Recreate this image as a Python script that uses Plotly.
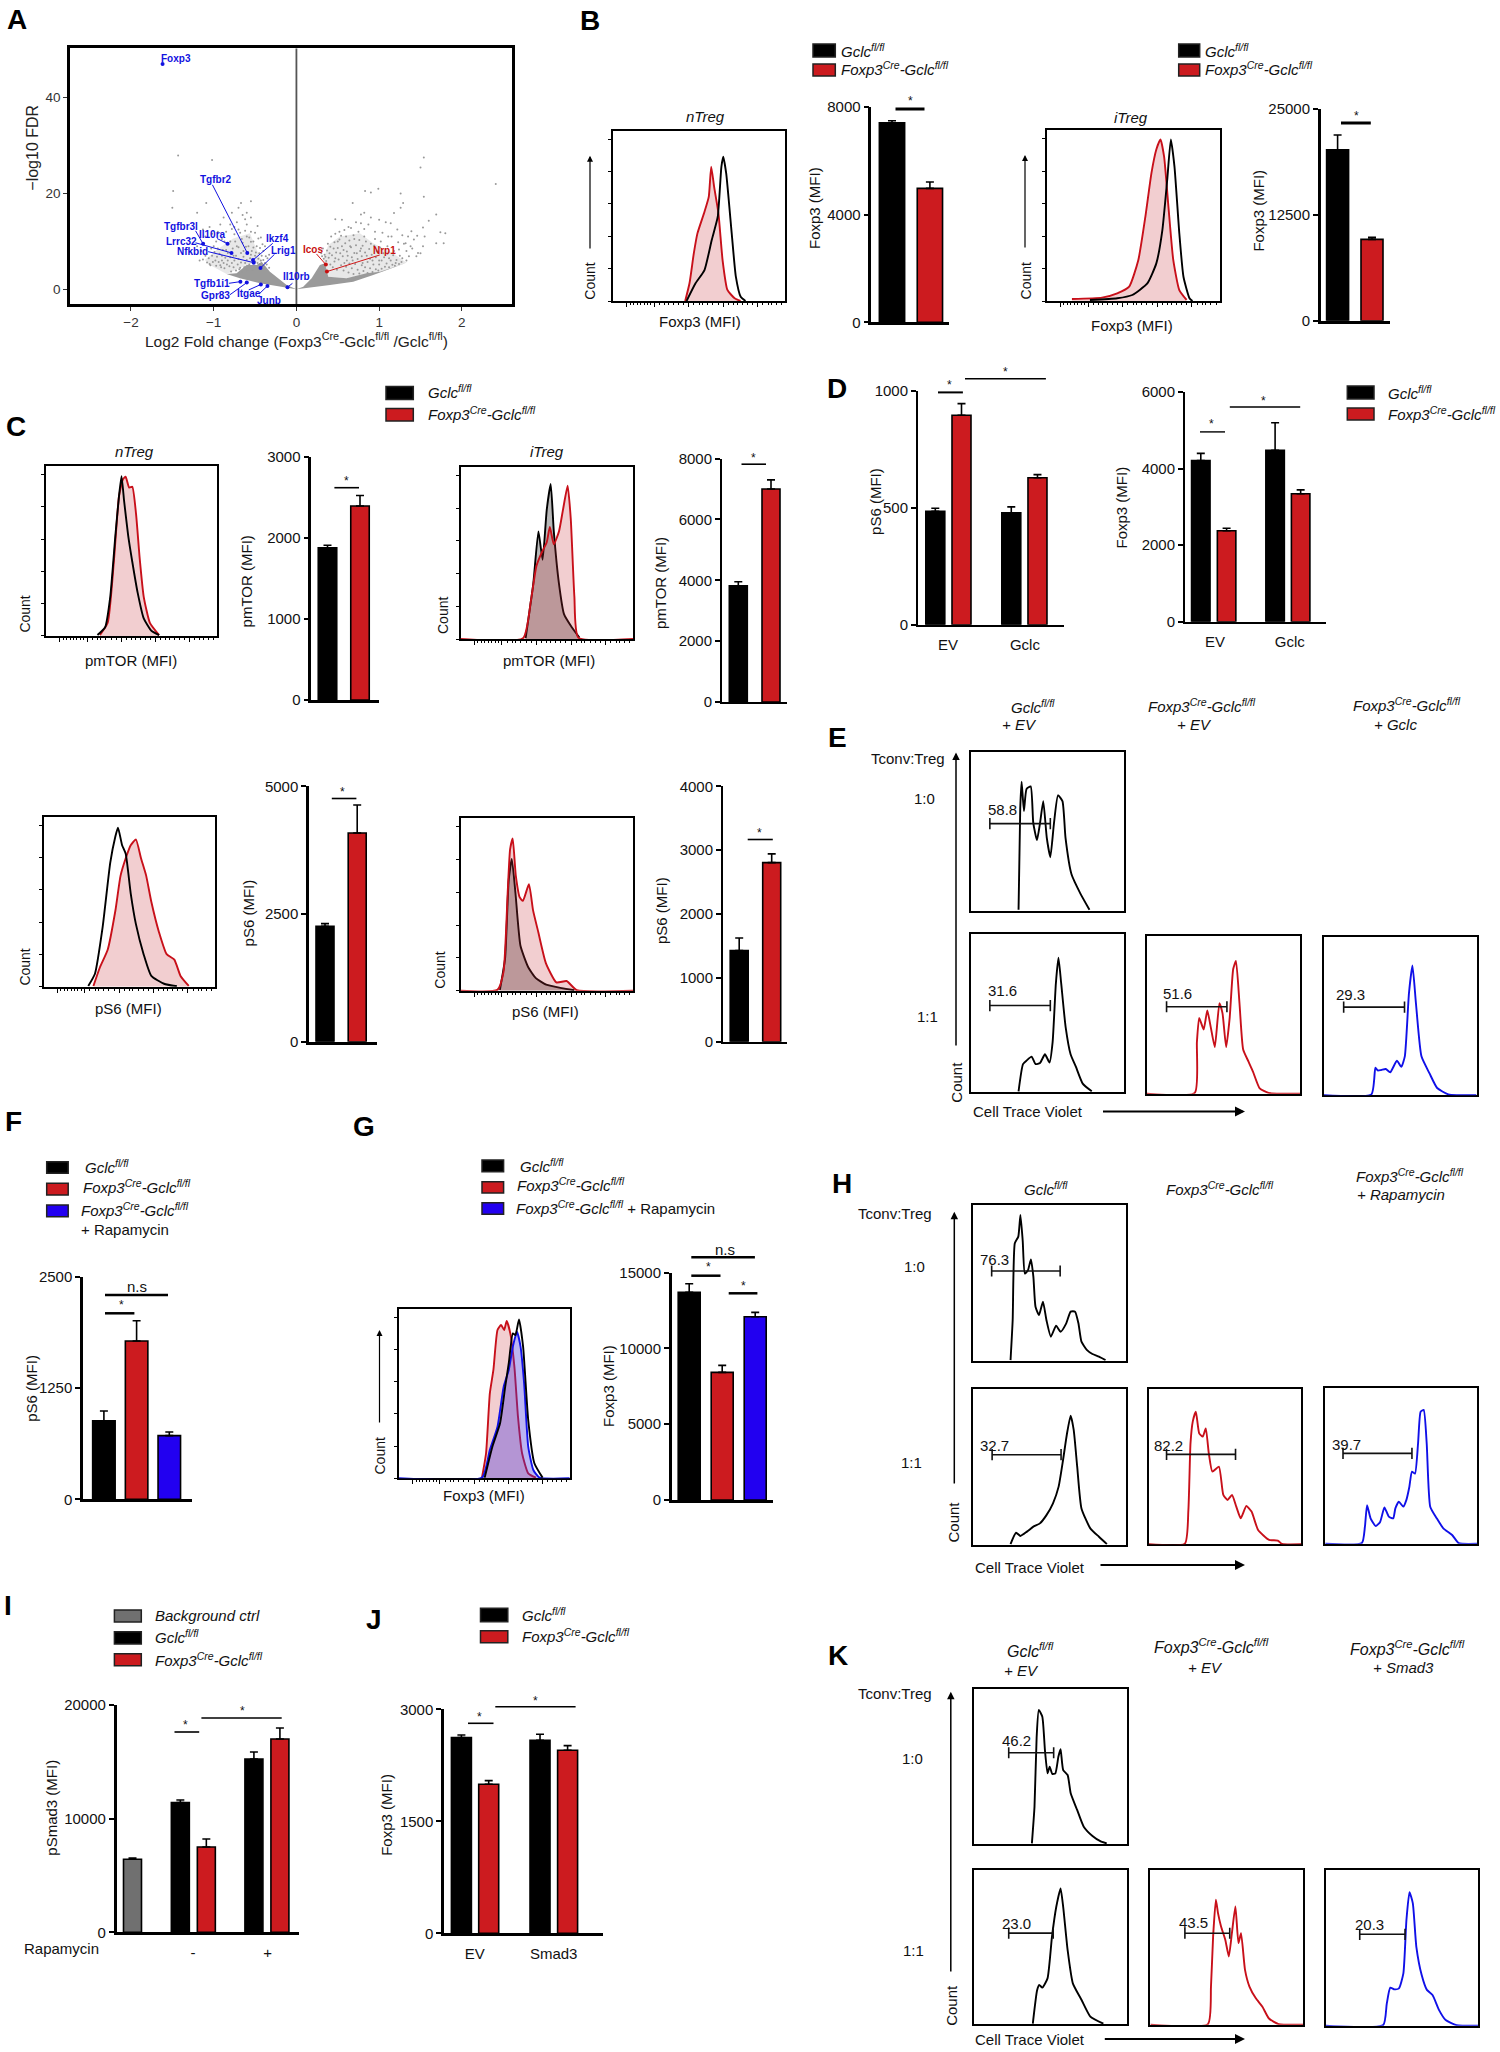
import plotly.graph_objects as go

W, H = 1500, 2052
FONT = "Liberation Sans"
BLACK, RED, BLUE, GREY = "#000000", "#CC1B1F", "#2200F0", "#707070"
LRED, LBLUE = "#C8101A", "#1010E8"
PINK = "rgba(200,50,60,0.24)"
VIOLET = "rgba(70,50,220,0.36)"
DARKF = "rgba(0,0,0,0.28)"

GCLC = "<i>Gclc<sup>fl/fl</sup></i>"
CRE = "<i>Foxp3<sup>Cre</sup>-Gclc<sup>fl/fl</sup></i>"

# ---------- A: volcano ----------
gene_names = ["Foxp3","Tgfbr2","Tgfbr3l","Il10ra","Lrrc32","Nfkbid","Ikzf4","Lrig1","Il10rb","Tgfb1i1","Gpr83","Itgae","Junb"]
gene_x = [-1.618,-0.594,-1.128,-0.833,-0.785,-0.516,-0.525,-0.434,-0.108,-0.677,-0.6,-0.43,-0.35]
gene_y = [47,7.6,9.5,9.5,7.6,5.56,6.1,4.45,0.42,1.6,1.4,1.0,0.7]
label_x = [-1.458,-0.976,-1.393,-1.015,-1.388,-1.254,-0.226,-0.156,0,-1.024,-0.98,-0.573,-0.334]
label_y = [48.2,22.95,13.07,11.4,9.94,7.86,10.5,8,2.64,1.25,-1.32,-0.83,-2.36]
lead_x = [-1.618,-1.015,-1.219,-0.959,-1.219,-1.067,-0.286,-0.265,-0.048,-0.816,-0.807,-0.577,-0.451]
lead_y = [47,21.8,12.2,10.6,9.7,7.86,9.6,7.3,1.25,1.25,-1.18,-0.14,-0.97]
up_names = ["Icos","Nrp1"]
up_x = [0.356,0.369]
up_y = [5.15,3.7]
up_label_x = [0.204,1.063]
up_label_y = [8.2,8.07]
up_lead_x = [0.243,1.007]
up_lead_y = [7.37,7.16]

sparse_x = [-1.43,-1.02,-1.49,-1.5,-1.09,-1.2,-0.67,-0.55,1.54,1.5,2.41,0.99,0.83,0.9,1.26,1.54,0.68,1.29,1.26,1.18,0.82,0.78,1.69,0.47,1.8,1.74,1.53,1.6,0.78,1.14,1.39,1.69,1.78,1.53,1.32,1.45,1.47,
 -1.05,-1.02,-0.98,-0.95,-0.92,-0.9,-0.9,-0.88,-0.85,-0.85,-0.83,-0.8,-0.8,-0.78,-0.76,-0.75,-0.72,-0.72,-0.7,-0.7,-0.68,-0.66,-0.65,-0.64,-0.62,-0.6,-0.6,-0.58,-0.56,-0.55,-0.54,-0.52,-0.5,-0.48,-0.47,-0.45,-0.43,-0.4,-0.38,-0.35,-0.33,-1.0,-1.1,-1.05,-0.95,-0.88,-0.78,-0.7,-1.15,-0.6,
 0.3,0.32,0.35,0.38,0.4,0.42,0.45,0.47,0.5,0.52,0.53,0.55,0.58,0.6,0.62,0.63,0.65,0.68,0.7,0.72,0.73,0.75,0.78,0.8,0.82,0.85,0.87,0.9,0.92,0.95,0.97,1.0,1.02,1.05,1.08,1.1,1.12,1.15,1.18,1.2,1.22,1.25,1.28,1.3,1.33,1.4,1.5,1.55,1.35,0.55,0.9,1.0]
sparse_y = [27.9,27,20.5,17,18,16,18,18.4,27.5,25.4,22,21,20.5,20.2,20,19.3,18,18,17,15.9,16,15.6,15.6,14.6,11.7,11.9,12.9,14.3,13.8,13.8,12.1,9.6,9.6,9,9.6,6.9,7.6,
 5.3,7,6,8.5,5,10.5,7,5.5,12,8.2,6,13.5,10,5.5,7,11.5,14,9,6.3,12.5,4.5,10.5,15.5,8,5.5,11,13.5,9,6.5,12,8,10,7,9,5.5,7.5,6,8,5.5,6.5,4.5,9,11,13,12,15,16,17,8,16,
 7.5,8.5,6.8,9.5,7.5,11,8.5,6.5,10,12,7.5,9,5.5,11,7,13,9,6,10.5,14,7.5,12,8.5,5.5,11,7,13.5,9.5,6,12,8,6,10,7.5,14,9,6.5,11,8,5.5,12.5,7,6.5,9.5,6,8.5,7.5,11,11,14.5,15,14.5]
mid_right_x = [.33,.34,.36,.37,.39,.41,.41,.43,.44,.46,.46,.48,.49,.5,.51,.52,.54,.54,.56,.57,.57,.59,.6,.61,.61,.63,.64,.64,.66,.67,.67,.69,.69,.7,.71,.72,.74,.74,.76,.76,.77,.79,.79,.8,.81,.83,.83,.84,.86,.86,.88,.89,.89,.91,.92,.93,.94,.96,.96,.98,.99,1.0,1.01,1.03,1.03,1.06,1.07,1.09,1.1,1.12,1.14,1.16,1.17,1.19,1.21,1.24,1.27,.31,.47,.58,.66,.82,.95,1.04,1.11,1.23,1.28,1.38,1.42,1.46,1.33,1.24,1.36]
mid_right_y = [6.4,7.2,5.9,8.1,6.6,5.2,8.9,7.1,4.6,9.8,5.8,7.7,4.1,8.6,6.2,10.4,5,11.2,6.9,8.2,3.9,9.6,4.7,6,7.9,3.5,10.2,5.4,8.8,4.4,6.7,11.3,3.2,7.6,5.3,9.2,4.1,6.3,10.3,3.3,8,5,6.9,9.1,3.8,4.6,7.7,10,5.7,3.4,8.4,4.4,6.4,7.2,3.6,5.2,9.1,4.2,6.7,7.8,3.9,5.2,8.7,6,4.3,6.7,4.7,5.4,7.4,4.6,6,5.1,7.1,4.9,6.1,5.3,5.7,6.9,11.6,12.4,12.8,12.6,10.5,11.8,11,9.8,11.3,9,10.4,11.2,8,8.3,6.9]
mid_left_x = [-.36,-.37,-.39,-.4,-.41,-.42,-.44,-.44,-.46,-.46,-.48,-.49,-.5,-.5,-.52,-.53,-.53,-.55,-.55,-.57,-.57,-.59,-.59,-.6,-.61,-.62,-.63,-.64,-.65,-.66,-.67,-.67,-.68,-.69,-.7,-.71,-.73,-.73,-.74,-.75,-.76,-.77,-.78,-.79,-.8,-.81,-.82,-.83,-.84,-.86,-.87,-.87,-.89,-.9,-.91,-.93,-.94,-.96,-.97,-.97,-.99,-1.01,-1.03,-1.04,-1.06,-1.08,-1.1,-1.13,-1.17,-1.2,-.62,-.47,-.55,-.75,-.92,-.43,-.38,-.33,-1.02,-1.13]
mid_left_y = [5.2,6.9,4.7,6.1,9.4,7,5.3,8.6,6.4,10.6,4.6,7.7,5.8,11.8,8.7,6,4.1,9.9,7.2,5.2,10.8,7.8,3.9,6.1,8.9,12.2,4.6,6.8,9.7,3.6,5.6,7.6,11.8,4.2,8.8,5.2,7,3.9,10,6,4.6,8.5,12.6,3.7,6.7,4.8,9.4,7.6,5.2,6.6,4.4,10,8.2,6,4.6,7.4,5.7,6.8,4.9,10,7.8,5.7,8.5,5,6.5,5.6,7,6.2,6,9,14.6,13.2,15,13,13.5,10.8,9,7.2,11.6,12.5]
dense_left_x = [0,-0.2,-0.44,-0.683,-0.844,-0.723,-0.602,-0.481,-0.42,-0.32,-0.2,-0.118]
dense_left_y = [0,0.54,1.25,2.3,3.19,3.34,5.07,5.07,5.77,3.68,1.94,0.9]
dense_right_x = [0,0.082,0.184,0.284,0.344,0.385,0.606,0.848,1.009,1.29,1.332,0.928,0.686,0.405]
dense_right_y = [0,0.54,2.3,5.07,5.43,2.63,2.3,3.34,3.68,5.43,5.56,2.99,1.59,0.9]
haze_left_x = [-1.106,-0.964,-0.764,-0.562,-0.462,-0.42,-0.602,-0.844,-1.045]
haze_left_y = [6.1,8.2,10.6,11.7,7.5,5.77,5.07,3.19,5.07]
haze_right_x = [0.324,0.385,0.526,0.767,0.928,1.17,1.332,1.009,0.606,0.385]
haze_right_y = [6.1,9.25,11,11.7,9.6,7.5,5.56,3.68,2.3,2.63]

# ---------- bar values ----------
b1_val, b1_err = [7407,4970], [74,235]
b2_val, b2_err = [20165,9590], [1730,236]
c1_val, c1_err = [1880,2397], [32,129]
c2_val, c2_err = [3821,6998], [129,301]
c3_val, c3_err = [2261,4087], [51,546]
c4_val, c4_err = [1427,2805], [198,137]
d1_val, d1_err = [485,896,479,629], [13,50,25,13]
d2_val, d2_err = [4208,2377,4475,3343], [190,64,724,102]
f_val, f_err = [883,1778,715], [109,228,41]
g_val, g_err = [13702,8424,12097], [572,462,286]
i_val, i_err = [6422,11408,7507,15249,17009], [118,234,704,616,968]
j_val, j_err = [2621,1996,2585,2451], [35,49,80,62]

# ---------- histogram curves (percent of axis) ----------
b1k_x=[42.7,47.9,53.1,57.3,60.8,62.9,64,65.7,68.9,71.3,74.1,76.9]
b1k_y=[0,10.4,18.2,35.8,49.5,78.8,84.7,74.9,39.7,14.3,2.5,0]
b1r_x=[41.9,44.4,46.9,49,53.1,55.6,57,58.7,61.2,63.6,66.4,70.6,74]
b1r_y=[0,10.4,28,39.7,52.4,61.3,78.9,67,51.5,24,6.5,1.6,0]
b2r_x=[14.6,32,40.8,47.7,53,57.1,60.6,63.4,65.8,67.9,70.4,73.2,76.7,80.9]
b2r_y=[1.2,2,4.5,8.4,24,49.5,74.9,88.6,94.5,84.4,55.2,24,6.4,0.6]
b2k_x=[25,40.8,49.5,58.2,63.4,66.9,69.7,71.8,73.9,76.7,79.1,82.6,84.3]
b2k_y=[0.6,1.6,3.5,10.3,22,41.5,70.8,94.5,78.6,39.6,14.2,1.6,0]
c1k_x=[30,34.5,37.5,40.5,42.6,44.1,45.6,48,50.4,53.5,57.1,61.6,66.1]
c1k_y=[0.5,5.1,23,59,82,94,79.5,59,43.6,25.6,10.3,3,0.5]
c1r_x=[31.5,36,39.6,42.6,45,46.5,48.6,50.4,52.6,54.7,57.1,60.7,66.1]
c1r_y=[0.5,7.7,43.6,82,92.3,93.6,87.2,87.7,71.8,46,23,7.7,0.5]
c2k_x=[37.7,42.1,45.1,47.5,49.9,52.2,54,57,59.9,64.4,68.8]
c2k_y=[0.5,32,62.5,46,75,90,62.5,32,14.4,6.8,0.8]
c2r_x=[36.2,40.7,43.9,46.9,49.9,51.7,54,57,59.3,62,63.8,65.9,68.2]
c2r_y=[0.5,22,42.3,50,56.2,65,55,62.5,75,89,70,24.6,0.8]
c3k_x=[26,29.9,34.3,38.8,41.8,43.3,45.7,47.8,50.7,53.7,58.2,62.7,70.1,77.6]
c3k_y=[0.5,7.7,34.6,73,88.5,93.6,83.3,78.2,55,37,19.2,6.4,1.8,0.3]
c3r_x=[29,32.8,37.3,41.8,44.8,47.8,50.7,53.7,56.7,59.7,62.7,67.2,71.6,76.1,79.7,84.5]
c3r_y=[0.5,11.5,21.8,44.9,65.4,75.6,83.3,86.7,75.6,65.4,50,32,19.2,16,6.4,0.5]
c4r_x=[21.4,24.9,27.3,28.7,30.2,32,34.3,36.1,39.6,42,45,49.4,55.5,61.4,67.3]
c4r_y=[0.5,11,56.6,81.8,88.1,66.7,54,52,61.6,46.5,34,16,4.8,5.6,0.3]
c4k_x=[22.8,25.8,27.9,29.7,31.8,34.7,39.2,43.6,49.6,58.5,65.9]
c4k_y=[0.5,18.7,64,76.3,56.6,26,13.6,7.3,3.5,1.5,0.3]
gr_x=[48.6,51,53.2,55.3,57.7,59.8,61.6,63.1,65.2,67.6,69.7,72.1,75.7,80.2]
gr_y=[0.4,14.8,50,64,87.6,90.6,87.6,93,85.6,66,36.4,14.8,2.95,0.4]
gk_x=[50.2,54.7,59.2,62.2,64.3,66.7,68.2,70.3,72.7,75.7,79.3,84.1]
gk_y=[0.4,18.7,32.5,54,68,85.6,84.6,93.9,77.8,34.4,8.9,0.4]
gb_x=[48.6,53.2,57.7,61.3,64.3,66.7,69.1,71.2,73.3,75.7,78.7,82.3]
gb_y=[0.4,16.7,30.5,54,64,77.8,86.6,77.8,56,18.7,4.9,0.4]

e1_x=[31.3,32.4,33.3,34.8,36.5,39.2,40.9,43.3,45.3,47.4,49.7,52,54.4,57,59.9,61.9,65.8,71.6,77.5]
e1_y=[0.6,64.6,81.5,63,76.9,78.5,55.4,44.6,55.4,69.2,46,33.8,55.4,72.9,69.2,46,23,10.8,0.6]
e2_x=[31.3,34.2,36.5,39.8,42.4,45.3,48.5,51.5,53.5,55.6,57.3,59.1,62,65.2,68.7,73.1,79]
e2_y=[0.6,17.8,20,22.5,17.8,18.5,24,18.8,31.7,68.6,85,68.6,41,24,16,5.5,0.6]
e3_x=[31.3,32.7,34.2,37.1,39.5,41.8,44.4,47.4,49.4,51.8,54.1,56.4,58.2,60.5,62.9,66.4,69.3,73.7,79.5]
e3_y=[0.6,32.6,48,40.6,52.6,41.8,29.5,57.2,51,29.5,48,78.8,84,57.2,28,20.3,14,3.4,0.6]
e4_x=[31.1,33.7,35.2,37.5,40.5,43.4,47.8,50.7,53,55.7,58,60.3,63.9,69.2,74.2,81.5]
e4_y=[0.6,17.5,15.7,16,16.6,14.5,21.8,18,24.6,64.3,82,58,24.6,13.8,4.6,0.6]

h1_x=[24.4,25.8,27.2,29.5,30.9,32.4,33.8,35.8,37.8,39.4,40.8,43.1,45.7,48,50.9,54.3,57.3,61,63.9,66.8,69,71,74.5,78.2,82.5,86.8]
h1_y=[0.4,26,75.4,79.7,93.6,77,56,58,65,54,34.7,29.3,37.9,26,15.4,22.5,18.6,24,31.5,31.5,24,12.2,6.9,4.3,2.6,0.4]
h2_x=[24.4,28,30.9,35.2,39.4,43.7,48,52.3,56,58.9,61.5,63.9,65.9,68.2,71,76.8,82.5,87.7]
h2_y=[0.4,7.7,5.6,8.4,11.6,13.7,19,26.6,37.3,54.4,71.4,82.9,73.7,50.1,23.3,10.5,5.1,0.4]
h3_x=[23.7,26,27.4,28.9,30.9,33.1,35.4,37.4,39.4,41.7,46,48.9,51.7,54.6,57.4,60.3,64,67.4,71.7,78.9,84.6,87.4]
h3_y=[0.4,22,65,79,85.2,71.3,69.2,74.5,58.4,46.7,49.9,31.7,28.5,31.7,24.2,16.7,24.6,21,9.2,2.8,2.4,0.2]
h4_x=[24.1,26.1,27.5,29.8,33.2,36.1,38.9,41.8,44.7,46.1,48.4,51.3,53.3,55.3,57,59,61,62.7,64.7,66.7,69,73.3,77.6,83.4,87.7]
h4_y=[0.4,10.9,24.8,16.3,11.3,14,23.3,17.4,16.3,22.7,27,23.8,28,36.6,46.3,45,64.2,84.8,85.9,64.2,23.8,16.3,9.9,5.6,0.4]

k1_x=[37.8,39.5,40.9,42.3,44.6,46.3,48,49.4,51.1,53.1,55.1,56.5,58.2,61.1,63.1,67.3,71.6,77.3,83,86.6]
k1_y=[0.4,24,69,86.6,82.3,60.8,45.7,50,45.3,45.7,56.5,61.2,47.8,44.6,32.8,22,11.2,5.2,1.5,0.4]
k2_x=[38.4,41.2,42.6,44.6,48,50.9,53.7,56.5,58.2,61.1,64.5,70.2,75.9,84.4]
k2_y=[0.4,22,25.4,23.7,29.7,56.7,76,87.9,76,48,26.5,15.7,5,0.4]
k3_x=[37.7,39.7,41.1,42.9,44.3,46.3,49.1,51.4,53.4,55.7,57.7,59.4,62,64.9,69.1,73.4,77.7,84]
k3_y=[0.4,24.6,57,80.6,72,63.4,54.7,44,59,76.3,52.6,59,35.4,24.6,17,11.6,4,0.4]
k4_x=[37.7,40,42.3,45.1,48,50.9,52.9,54.9,57.1,59.4,62.9,66.3,70,74.3,78.6,85.7]
k4_y=[0.4,14,24.4,23.3,24,33.6,67.9,85.7,78.6,50.7,32.5,23,19.7,10,3.6,0.4]

hist_major = [8,24,44,64,84]
hist_minor = [10,12,14,16,18,20,22,27,30,32,35,38,41,47,50,52,55,58,61,67,70,72,75,78,81,87,90,92,95,98]
hist_y_ticks = [0,19,38,57,76,95]

# ---------- plumbing ----------
fig = go.Figure()
layout = {}
shapes, annots = [], []
_n = [0]

def new_axes(x0, x1, y0, y1, xopt, yopt):
    _n[0] += 1
    s = "" if _n[0] == 1 else str(_n[0])
    layout["xaxis" + s] = dict(domain=[x0 / W, x1 / W], anchor="y" + s, automargin=False, **xopt)
    layout["yaxis" + s] = dict(domain=[1 - y1 / H, 1 - y0 / H], anchor="x" + s, automargin=False, **yopt)
    return "x" + s, "y" + s

def text(x, y, s, size=15, anchor="center", angle=0, color="#111", bold=False):
    if bold:
        s = "<b>" + s + "</b>"
    annots.append(dict(x=x / W, y=1 - y / H, xref="paper", yref="paper", text=s, showarrow=False,
                       xanchor=anchor, yanchor="middle", textangle=angle,
                       font=dict(size=size, color=color, family=FONT)))

def line(x0, y0, x1, y1, w=1.5, color="black"):
    shapes.append(dict(type="line", xref="paper", yref="paper", x0=x0 / W, x1=x1 / W,
                       y0=1 - y0 / H, y1=1 - y1 / H, line=dict(color=color, width=w)))

def arrow(x0, y0, x1, y1, w=1.5, head=1.0):
    annots.append(dict(x=x1 / W, y=1 - y1 / H, xref="paper", yref="paper", ax=x0 - x1, ay=y0 - y1,
                       axref="pixel", ayref="pixel", showarrow=True, arrowhead=2, arrowsize=head,
                       arrowwidth=w, arrowcolor="black", text=""))

def swatch(x0, x1, y0, y1, color):
    shapes.append(dict(type="rect", xref="paper", yref="paper", x0=x0 / W, x1=x1 / W,
                       y0=1 - y0 / H, y1=1 - y1 / H, fillcolor=color, line=dict(color="#222", width=1.5)))

def sig(x0, x1, y, w, sx, sy, label="*", size=12):
    line(x0, y, x1, y, w)
    text(sx, sy, label, size=size)

def bars(x0, x1, ytop, ybot, ymax, ticks, c0, step, bw, slots, values, errors, colors,
         xticks=None, xticktext=None, lw=2.5):
    xa, ya = new_axes(x0, x1, ytop, ybot,
        dict(range=[(x0 - c0) / step, (x1 - c0) / step], showline=True, linecolor="black", linewidth=lw,
             showgrid=False, zeroline=False, tickmode="array", tickvals=xticks or [], ticktext=xticktext or [],
             ticks="outside" if xticks else "", ticklen=5, tickcolor="rgba(0,0,0,0)", tickfont=dict(size=15, color="#111")),
        dict(range=[0, ymax], showline=True, linecolor="black", linewidth=lw, showgrid=False, zeroline=False,
             tickmode="array", tickvals=ticks, ticktext=[str(t) for t in ticks], ticks="outside", ticklen=5,
             tickwidth=2, tickcolor="black", tickfont=dict(size=15, color="#111")))
    fig.add_trace(go.Bar(x=slots, y=values, width=[bw / step] * len(slots), xaxis=xa, yaxis=ya,
                         marker=dict(color=colors, line=dict(color="black", width=1.6)),
                         error_y=dict(type="data", symmetric=False, array=errors, arrayminus=[0] * len(errors),
                                      color="black", thickness=1.6, width=4), showlegend=False))

def hist(x0, x1, y0, y1, curves, flow=True, gate=None, gate_label=None):
    xopt = dict(range=[0, 100], showline=True, mirror=True, linecolor="black", linewidth=2, showgrid=False,
                zeroline=False, showticklabels=False, layer="below traces")
    yopt = dict(range=[0, 100], showline=True, mirror=True, linecolor="black", linewidth=2, showgrid=False,
                zeroline=False, showticklabels=False, layer="below traces")
    if flow:
        xopt.update(tickmode="array", tickvals=hist_major, ticks="outside", ticklen=4, tickwidth=1, tickcolor="black",
                    minor=dict(tickmode="array", tickvals=hist_minor, ticks="outside", ticklen=2, tickwidth=0.8, tickcolor="black"))
        yopt.update(tickmode="array", tickvals=hist_y_ticks, ticks="outside", ticklen=3, tickwidth=1, tickcolor="black")
    xa, ya = new_axes(x0, x1, y0, y1, xopt, yopt)
    for xs, ys, col, fill, base in curves:
        if base:
            xs, ys = [0] + xs + [100], [0] + ys + [0]
        fig.add_trace(go.Scatter(x=xs, y=ys, mode="lines", xaxis=xa, yaxis=ya, showlegend=False,
                                 line=dict(color=col, width=1.9, shape="spline", smoothing=0.5),
                                 fill="tozeroy" if fill else None, fillcolor=fill))
    if gate:
        gx0, gx1, gy = gate
        fig.add_trace(go.Scatter(x=[gx0, gx1], y=[gy, gy], mode="lines+markers", xaxis=xa, yaxis=ya, showlegend=False,
                                 line=dict(color="#111", width=1.6),
                                 marker=dict(symbol="line-ns", size=8, line=dict(color="#111", width=1.6))))
        lab, lx, ly = gate_label
        annots.append(dict(x=lx, y=ly, xref=xa, yref=ya, text=lab, showarrow=False,
                           font=dict(size=15, color="#111", family=FONT)))

def legend2(sw0, sw1, rows, tx):
    for (y0, y1, color, label, ty, txx) in rows:
        swatch(sw0, sw1, y0, y1, color)
        text(txx if txx else tx, ty, label, size=15, anchor="left")

# ---------- letters ----------
for s, x, y in [("A",16.5,19),("B",590,20),("C",15.5,426.7),("D",836.5,388.5),("E",837,737.8),("F",13.5,1121.7),
                ("G",363.5,1126.7),("H",841.5,1183),("I",8,1605.7),("J",374,1619),("K",837.5,1655)]:
    text(x, y, s, size=28, bold=True, color="black")

# ---------- A ----------
xa, ya = new_axes(70, 511.5, 48.3, 304,
    dict(range=[-2.737, 2.6], showline=True, mirror=True, linecolor="black", linewidth=2.5, showgrid=False, zeroline=False,
         tickmode="array", tickvals=[-2,-1,0,1,2], ticktext=["\u22122","\u22121","0","1","2"], ticks="outside", ticklen=4,
         tickcolor="#333", tickfont=dict(size=13.5, color="#333")),
    dict(range=[-3.07, 50.3], showline=True, mirror=True, linecolor="black", linewidth=2.5, showgrid=False, zeroline=False,
         tickmode="array", tickvals=[0,20,40], ticks="outside", ticklen=4, tickcolor="#333", tickfont=dict(size=13.5, color="#333")))
for hx, hy in [(haze_left_x, haze_left_y), (haze_right_x, haze_right_y)]:
    fig.add_trace(go.Scatter(x=hx, y=hy, mode="lines", fill="toself", fillcolor="rgba(150,150,150,0.22)",
                             line=dict(width=0, color="rgba(0,0,0,0)"), xaxis=xa, yaxis=ya, showlegend=False))
for dx, dy in [(dense_left_x, dense_left_y), (dense_right_x, dense_right_y)]:
    fig.add_trace(go.Scatter(x=dx, y=dy, mode="lines", fill="toself", fillcolor="#9a9a9a",
                             line=dict(width=0, color="#9a9a9a"), xaxis=xa, yaxis=ya, showlegend=False))
fig.add_trace(go.Scatter(x=sparse_x + mid_left_x + mid_right_x, y=sparse_y + mid_left_y + mid_right_y, mode="markers",
                         marker=dict(size=2, color="#999999"), xaxis=xa, yaxis=ya, showlegend=False))
fig.add_trace(go.Scatter(x=[0,0], y=[-3.07,50.3], mode="lines", line=dict(color="#555", width=1.8), xaxis=xa, yaxis=ya, showlegend=False))
def seg(px, py, qx, qy):
    sx, sy = [], []
    for a, b, c, d in zip(px, py, qx, qy):
        sx += [a, c, None]
        sy += [b, d, None]
    return sx, sy
sx, sy = seg(gene_x, gene_y, lead_x, lead_y)
fig.add_trace(go.Scatter(x=sx, y=sy, mode="lines", line=dict(color="#1212e0", width=1), xaxis=xa, yaxis=ya, showlegend=False))
sx, sy = seg(up_x, up_y, up_lead_x, up_lead_y)
fig.add_trace(go.Scatter(x=sx, y=sy, mode="lines", line=dict(color="#d01818", width=1), xaxis=xa, yaxis=ya, showlegend=False))
fig.add_trace(go.Scatter(x=gene_x, y=gene_y, mode="markers", marker=dict(size=4, color="#1212e0"), xaxis=xa, yaxis=ya, showlegend=False))
fig.add_trace(go.Scatter(x=up_x, y=up_y, mode="markers", marker=dict(size=4, color="#c81010"), xaxis=xa, yaxis=ya, showlegend=False))
for n, lx, ly in zip(gene_names, label_x, label_y):
    annots.append(dict(x=lx, y=ly, xref=xa, yref=ya, text="<b>%s</b>" % n, showarrow=False, font=dict(size=10, color="#1212e0", family=FONT)))
for n, lx, ly in zip(up_names, up_label_x, up_label_y):
    annots.append(dict(x=lx, y=ly, xref=xa, yref=ya, text="<b>%s</b>" % n, showarrow=False, font=dict(size=10, color="#c81010", family=FONT)))
text(33, 147.7, "\u2212log10 FDR", size=16, angle=-90, color="#222")
text(296, 340, "Log2 Fold change (Foxp3<sup>Cre</sup>-Gclc<sup>fl/fl</sup> /Gclc<sup>fl/fl</sup>)", size=15.5, color="#222")

# ---------- B ----------
legend2(813, 835.3, [(44,57,BLACK,GCLC,50,None),(64,76,RED,CRE,69,None)], 839)
legend2(1178.7, 1199.7, [(44,57,BLACK,GCLC,50,None),(64,76,RED,CRE,69,None)], 1203)
hist(613, 785.3, 130.7, 301, [(b1r_x,b1r_y,LRED,PINK,False),(b1k_x,b1k_y,BLACK,None,False)])
hist(1046.7, 1219.6, 130, 301, [(b2r_x,b2r_y,LRED,PINK,False),(b2k_x,b2k_y,BLACK,None,False)])
text(705.8, 116, "<i>nTreg</i>", 15); text(1131, 118, "<i>iTreg</i>", 15)
text(700, 321.7, "Foxp3 (MFI)", 15); text(1132, 325, "Foxp3 (MFI)", 15)
text(590, 281.7, "Count", 14, angle=-90); text(1025.7, 280.7, "Count", 14, angle=-90)
arrow(590, 250, 590, 155.7, 1.2); arrow(1025, 249, 1025, 155, 1.2)
bars(871.4, 948.6, 106.7, 322.3, 8000, [0,4000,8000], 892, 37.9, 25.3, [0,1], b1_val, b1_err, [BLACK,RED])
sig(895.5, 924.5, 109, 3, 910.6, 101)
text(814, 208, "Foxp3 (MFI)", 15, angle=-90)
bars(1320.8, 1389.5, 108.7, 320.7, 25000, [0,12500,25000], 1337.6, 34.4, 22, [0,1], b2_val, b2_err, [BLACK,RED])
sig(1341, 1370.8, 123, 3, 1356, 116)
text(1257.6, 211, "Foxp3 (MFI)", 15, angle=-90)

# ---------- C ----------
legend2(386, 413.3, [(386.6,399.6,BLACK,GCLC,391.8,None),(408.4,421,RED,CRE,413.6,None)], 425.6)
hist(46.2, 217, 465.9, 635.9, [(c1r_x,c1r_y,LRED,PINK,False),(c1k_x,c1k_y,BLACK,None,False)])
hist(460.5, 633.3, 466.8, 639, [(c2k_x,c2k_y,BLACK,DARKF,False),(c2r_x,c2r_y,LRED,PINK,True)])
hist(43.6, 215.4, 816.8, 986.8, [(c3r_x,c3r_y,LRED,PINK,False),(c3k_x,c3k_y,BLACK,None,False)])
hist(460.5, 633.3, 818, 990.7, [(c4k_x,c4k_y,BLACK,DARKF,False),(c4r_x,c4r_y,LRED,PINK,True)])
text(134.9, 451.5, "<i>nTreg</i>", 15); text(546.7, 451.5, "<i>iTreg</i>", 15)
text(130.8, 660, "pmTOR (MFI)", 15); text(548.7, 660, "pmTOR (MFI)", 15)
text(128, 1008.6, "pS6 (MFI)", 15); text(545, 1011.7, "pS6 (MFI)", 15)
text(24.6, 614, "Count", 14, angle=-90); text(443.6, 615.4, "Count", 14, angle=-90)
text(24.6, 967, "Count", 14, angle=-90); text(440, 970.7, "Count", 14, angle=-90)
bars(311.3, 378.5, 457.2, 700, 3000, [0,1000,2000,3000], 327.5, 32.5, 18.5, [0,1], c1_val, c1_err, [BLACK,RED])
sig(334.4, 359, 487.7, 1.6, 346, 481); text(246, 581.4, "pmTOR (MFI)", 15, angle=-90)
bars(722, 787, 458.5, 702, 8000, [0,2000,4000,6000,8000], 738.3, 32.7, 18, [0,1], c2_val, c2_err, [BLACK,RED], lw=2)
sig(741.5, 766, 464.2, 1.6, 753, 458); text(660.5, 583.6, "pmTOR (MFI)", 15, angle=-90)
bars(309, 377, 786.3, 1041.8, 5000, [0,2500,5000], 325, 32.2, 18, [0,1], c3_val, c3_err, [BLACK,RED])
sig(331.8, 356.4, 798.5, 1.6, 342.6, 792); text(248.7, 912.7, "pS6 (MFI)", 15, angle=-90)
bars(723, 787, 786.3, 1041.8, 4000, [0,1000,2000,3000,4000], 739.2, 32.5, 18, [0,1], c4_val, c4_err, [BLACK,RED], lw=2)
sig(747.7, 772.8, 839.5, 1.6, 759.5, 833); text(661.5, 910.5, "pS6 (MFI)", 15, angle=-90)

# ---------- D ----------
bars(918, 1063.8, 391, 624.7, 1000, [0,500,1000], 935.3, 26.2, 19, [0,1,2.9,3.9], d1_val, d1_err, [BLACK,RED,BLACK,RED],
     xticks=[0.485,3.42], xticktext=["EV","Gclc"], lw=2)
sig(938, 962.9, 392.4, 2, 949.4, 385); sig(965, 1045.9, 378.8, 1.4, 1005.5, 372)
text(875.4, 501.5, "pS6 (MFI)", 15, angle=-90)
bars(1185, 1326, 392, 621.8, 6000, [0,2000,4000,6000], 1200.8, 25.8, 18.5, [0,1,2.88,3.87], d2_val, d2_err, [BLACK,RED,BLACK,RED],
     xticks=[0.55,3.45], xticktext=["EV","Gclc"], lw=2)
sig(1200, 1225, 431.9, 1.4, 1211.8, 424); sig(1229.8, 1300.2, 407, 1.4, 1263.4, 401)
text(1121.7, 507.8, "Foxp3 (MFI)", 15, angle=-90)
legend2(1347.3, 1374, [(386,399,BLACK,GCLC,392,None),(408,420,RED,CRE,413.8,None)], 1386)

# ---------- E ----------
text(1033, 706, GCLC, 15); text(1019, 724.6, "<i>+ EV</i>", 15)
text(1202.4, 705, CRE, 15); text(1194.8, 724.6, "<i>+ EV</i>", 15)
text(1406.5, 704, CRE, 15); text(1395.8, 724.6, "<i>+ Gclc</i>", 15)
hist(970.5, 1124, 752.4, 910.7, [(e1_x,e1_y,BLACK,None,False)], flow=False, gate=(12.6,52,55), gate_label=("58.8",21,64))
hist(970.5, 1124, 934, 1092.3, [(e2_x,e2_y,BLACK,None,False)], flow=False, gate=(12.6,52,54.8), gate_label=("31.6",21,64))
hist(1146.8, 1300, 935.5, 1093.8, [(e3_x,e3_y,LRED,None,True)], flow=False, gate=(12.9,52.3,55), gate_label=("51.6",20,63.4))
hist(1324, 1476.5, 937, 1095.3, [(e4_x,e4_y,LBLUE,None,True)], flow=False, gate=(12.9,52.8,55.7), gate_label=("29.3",17.6,63.7))
text(907.7, 758, "Tconv:Treg", 15); text(924.7, 798.6, "1:0", 15); text(927, 1016.4, "1:1", 15)
arrow(956, 1047, 956, 752.4, 1.5); text(955.7, 1082, "Count", 15, angle=-90)
text(971.4, 1111.4, "Cell Trace Violet", 15, anchor="left"); arrow(1101.5, 1111.4, 1245, 1111.4, 2)

# ---------- F ----------
swatch(46.7, 68.2, 1161.7, 1173.3, BLACK); text(83, 1166.7, GCLC, 15, anchor="left")
swatch(46.7, 68.2, 1183.3, 1195, RED); text(80.5, 1186, CRE, 15, anchor="left")
swatch(46.7, 68.2, 1205, 1216.7, BLUE); text(78.5, 1209, CRE, 15, anchor="left")
text(78.5, 1229, "+ Rapamycin", 15, anchor="left")
bars(83, 192.3, 1276.7, 1499.3, 2500, [0,1250,2500], 103.9, 32.7, 22.5, [0,1,2], f_val, f_err, [BLACK,RED,BLUE])
sig(105, 168, 1295, 2.5, 137.4, 1286.7, "n.s", 15); sig(105, 134.4, 1313.3, 2.5, 121.5, 1305)
text(30.8, 1388, "pS6 (MFI)", 15, angle=-90)

# ---------- G ----------
swatch(482, 503.6, 1160, 1171.7, BLACK); text(518, 1165, GCLC, 15, anchor="left")
swatch(482, 503.6, 1181.7, 1193, RED); text(514.9, 1184.3, CRE, 15, anchor="left")
swatch(482, 503.6, 1202.7, 1214.3, BLUE); text(513.8, 1207.7, CRE + " + Rapamycin", 15, anchor="left")
hist(399, 569.7, 1309, 1478.3, [(gr_x,gr_y,LRED,PINK,False),(gb_x,gb_y,LBLUE,VIOLET,True),(gk_x,gk_y,BLACK,None,False)])
text(483.6, 1495.7, "Foxp3 (MFI)", 15); text(379.5, 1456, "Count", 14, angle=-90)
arrow(379.5, 1424, 379.5, 1330, 1.2)
bars(671.8, 773.3, 1272.7, 1500, 15000, [0,5000,10000,15000], 689.2, 33, 22, [0,1,2], g_val, g_err, [BLACK,RED,BLUE])
sig(691.3, 754.9, 1257.3, 2.5, 724.6, 1249, "n.s", 15); sig(691.3, 720.5, 1275.7, 2.5, 708, 1267); sig(728.7, 757.4, 1293.3, 2.5, 743.6, 1286)
text(608.2, 1385.7, "Foxp3 (MFI)", 15, angle=-90)

# ---------- H ----------
text(1046, 1188, GCLC, 15); text(1220, 1188, CRE, 15)
text(1354, 1175, CRE, 15, anchor="left"); text(1355.3, 1194.3, "<i>+ Rapamycin</i>", 15, anchor="left")
hist(973.4, 1125.6, 1205, 1360.7, [(h1_x,h1_y,BLACK,None,False)], flow=False, gate=(12,57,57.6), gate_label=("76.3",14,65))
hist(973.4, 1125.6, 1389, 1544.7, [(h2_x,h2_y,BLACK,None,False)], flow=False, gate=(12.3,57.6,57.8), gate_label=("32.7",14,64))
hist(1148.7, 1301.3, 1388.7, 1544.3, [(h3_x,h3_y,LRED,None,True)], flow=False, gate=(11.7,56.9,57.8), gate_label=("82.2",13,63.4))
hist(1325.2, 1477.4, 1388, 1543.7, [(h4_x,h4_y,LBLUE,None,True)], flow=False, gate=(11.7,57,58), gate_label=("39.7",14,63.4))
text(895.4, 1213, "Tconv:Treg", 15); text(914.6, 1266.7, "1:0", 15); text(911.5, 1462.7, "1:1", 15)
arrow(954.3, 1485, 954.3, 1211.7, 1.5); text(953.8, 1521.7, "Count", 15, angle=-90)
text(973.4, 1567.3, "Cell Trace Violet", 15, anchor="left"); arrow(1099, 1565, 1245, 1565, 2)

# ---------- I ----------
swatch(114.4, 141.3, 1610, 1622, GREY); text(153.4, 1615.7, "<i>Background ctrl</i>", 15, anchor="left")
swatch(114.4, 141.3, 1631.7, 1644, BLACK); text(153.4, 1636.7, GCLC, 15, anchor="left")
swatch(114.4, 141.3, 1653.7, 1665.7, RED); text(153.4, 1659, CRE, 15, anchor="left")
bars(116.6, 299.2, 1705, 1932.3, 20000, [0,10000,20000], 132.5, 26, 18, [0,1.84,2.84,4.67,5.67], i_val, i_err,
     [GREY,BLACK,RED,BLACK,RED], xticks=[2.33,5.2], xticktext=["-","+"])
sig(174.5, 199.2, 1732, 1.6, 185.7, 1725); sig(201.4, 281.7, 1718, 1.4, 242.3, 1711)
text(50.7, 1808, "pSmad3 (MFI)", 15, angle=-90); text(21.5, 1948.3, "Rapamycin", 15, anchor="left")

# ---------- J ----------
legend2(480.5, 507.8, [(1608.3,1621.7,BLACK,GCLC,1614,None),(1630.7,1642.7,RED,CRE,1635.7,None)], 519.5)
bars(444, 603.4, 1709.3, 1933.3, 3000, [0,1500,3000], 461.4, 27.3, 20, [0,1,2.88,3.89], j_val, j_err, [BLACK,RED,BLACK,RED],
     xticks=[0.49,3.38], xticktext=["EV","Smad3"])
sig(468, 493.5, 1723.3, 1.6, 479.6, 1717); sig(495.3, 575.6, 1706.7, 1.6, 535.7, 1701)
text(385.8, 1815, "Foxp3 (MFI)", 15, angle=-90)

# ---------- K ----------
text(1030.5, 1650, GCLC, 16); text(1021.8, 1670, "<i>+ EV</i>", 15)
text(1211.5, 1646, CRE, 16); text(1205.4, 1667.3, "<i>+ EV</i>", 15)
text(1407, 1647.7, CRE, 16); text(1403, 1667.7, "<i>+ Smad3</i>", 15)
hist(973.9, 1127.3, 1689.3, 1844, [(k1_x,k1_y,BLACK,None,False)], flow=False, gate=(22.7,52,59), gate_label=("46.2",27.5,67.2))
hist(973.9, 1127.3, 1869.7, 2024.3, [(k2_x,k2_y,BLACK,None,False)], flow=False, gate=(22.7,51.7,59), gate_label=("23.0",28,65.3))
hist(1150.4, 1303, 1869.7, 2024.7, [(k3_x,k3_y,LRED,None,True)], flow=False, gate=(22.6,52,59), gate_label=("43.5",28,66))
hist(1325.7, 1478.3, 1870, 2025.7, [(k4_x,k4_y,LBLUE,None,True)], flow=False, gate=(22.3,52,58.7), gate_label=("20.3",28.6,65.3))
text(895.4, 1693, "Tconv:Treg", 15); text(912, 1758.3, "1:0", 15); text(913.7, 1950, "1:1", 15)
arrow(950.8, 1973, 950.8, 1691.7, 1.5); text(950.8, 2005, "Count", 15, angle=-90)
text(973.4, 2039, "Cell Trace Violet", 15, anchor="left"); arrow(1103.3, 2039, 1245, 2039, 2)

layout.update(width=W, height=H, autosize=False, margin=dict(l=0, r=0, t=0, b=0, autoexpand=False), paper_bgcolor="white",
              plot_bgcolor="white", font=dict(family=FONT, color="#111"), showlegend=False, barmode="overlay",
              shapes=shapes, annotations=annots)
fig.update_layout(**layout)
fig.write_html("out.html", config={"displayModeBar": False},
               post_script="document.body.style.margin='0';document.body.style.overflow='hidden';")
